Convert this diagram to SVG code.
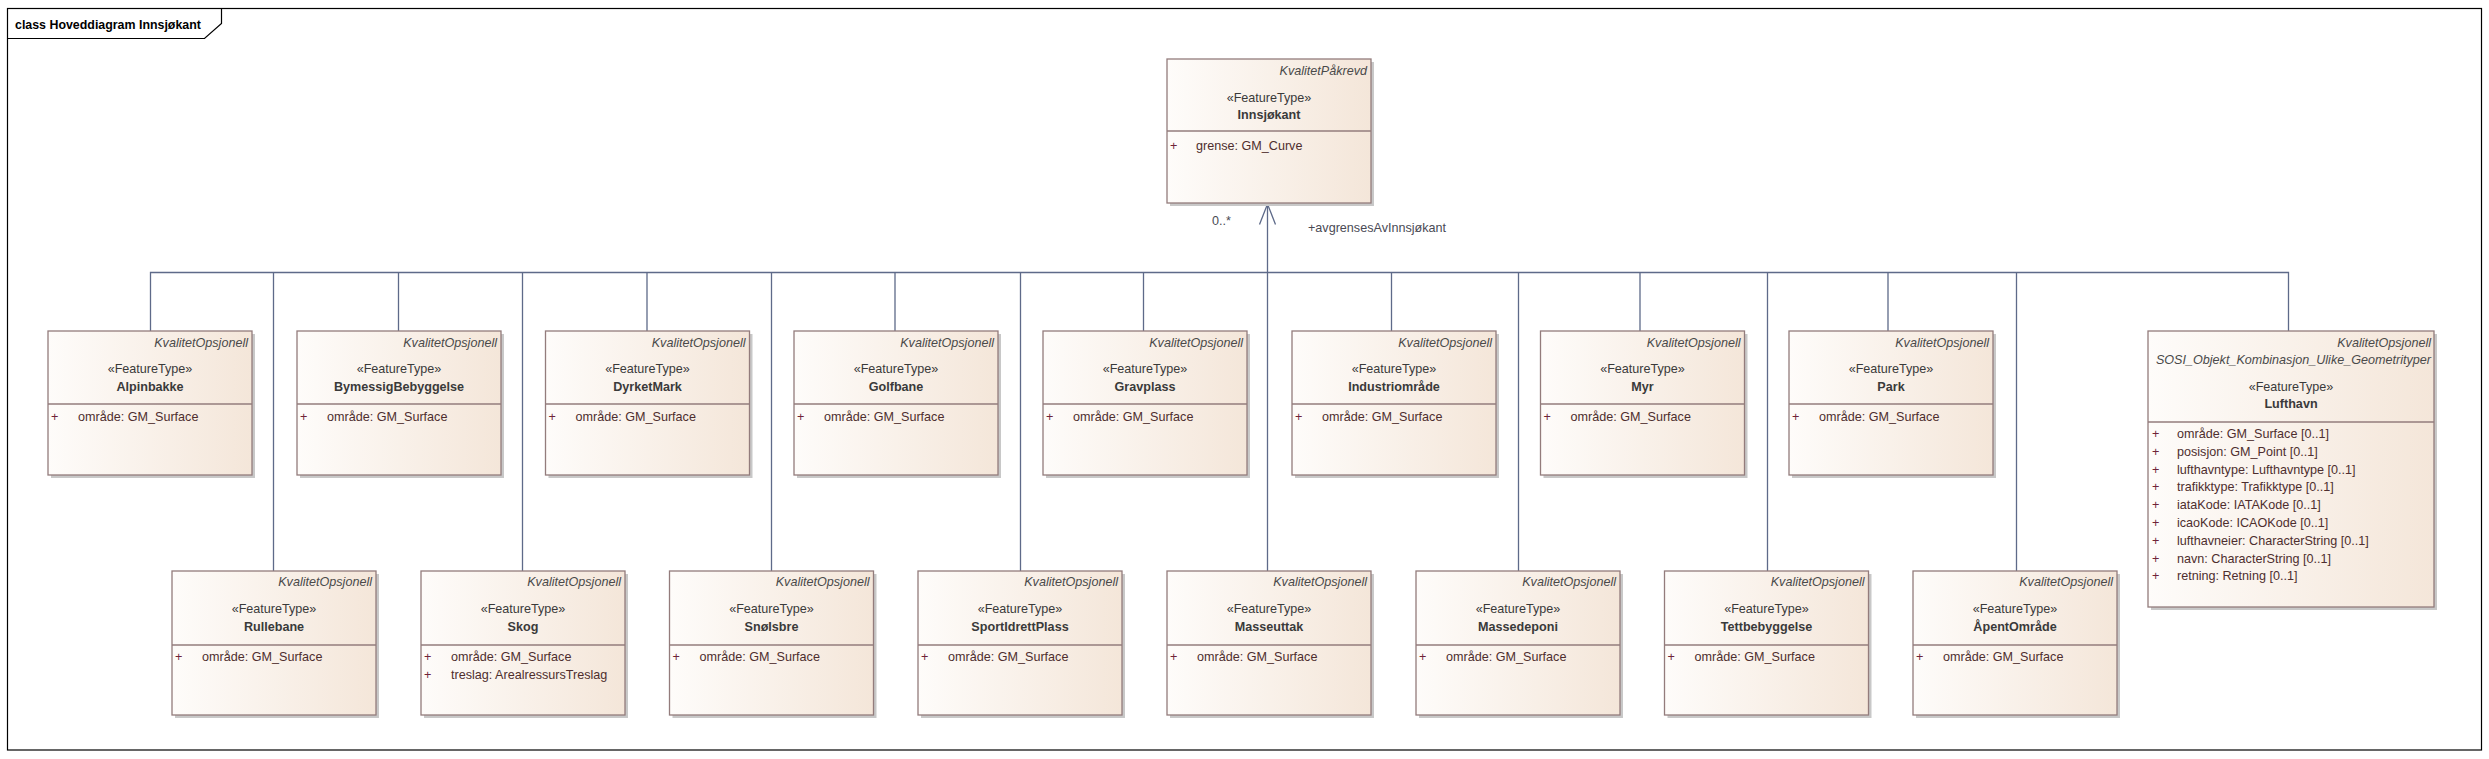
<svg xmlns="http://www.w3.org/2000/svg" width="2489" height="759" viewBox="0 0 2489 759">
<defs>
<linearGradient id="fill" x1="0" y1="0" x2="1" y2="0">
<stop offset="0" stop-color="#FEFCFA"/>
<stop offset="1" stop-color="#F4E6D9"/>
</linearGradient>
</defs>
<style>
text{font-family:"Liberation Sans",Arial,sans-serif;font-size:12.6px;fill:#3A3A3A}
.shadow{fill:#C8C8C8}
.box{fill:url(#fill);stroke:#937C7C;stroke-width:1.3}
.div{stroke:#937C7C;stroke-width:1.3}
.tag{font-style:italic;fill:#4A4A4A;text-anchor:end}
.st{text-anchor:middle}
.nm{text-anchor:middle;font-weight:bold}
.pl{fill:#6E2438}
.at{fill:#4E2E2E}
.conn{stroke:#5E6A89;stroke-width:1.3;fill:none}
.lbl{fill:#4A4A55}
.frame{fill:none;stroke:#000;stroke-width:1.2}
.title{font-weight:bold;font-size:12.4px;fill:#000}
</style>

<g id="frame">
<rect class="frame" x="7.5" y="8.5" width="2474" height="741.5"/>
<path class="frame" d="M7.5,38.5 H204.5 L221.5,23.5 V8.5"/>
<text class="title" x="15" y="28.5">class Hoveddiagram Innsjøkant</text>
</g>

<g id="connectors">
<path class="conn" d="M150.5,331 V272.5 H2288.5 V331"/>
<path class="conn" d="M398.5,272.5 V331 M647,272.5 V331 M895,272.5 V331 M1143.5,272.5 V331 M1391.5,272.5 V331 M1640,272.5 V331 M1888,272.5 V331"/>
<path class="conn" d="M273.5,272.5 V571 M522.5,272.5 V571 M771.5,272.5 V571 M1020.5,272.5 V571 M1518.5,272.5 V571 M1767.5,272.5 V571 M2016.5,272.5 V571"/>
<path class="conn" d="M1267.5,204 V571"/>
<path class="conn" d="M1259.5,224.5 L1267.5,204 L1275.5,224.5"/>
<text class="lbl" x="1212" y="225">0..*</text>
<text class="lbl" x="1308" y="232">+avgrensesAvInnsjøkant</text>
</g>

<g id="Innsjokant">
<rect class="shadow" x="1170" y="62" width="204" height="144"/>
<rect class="box" x="1167" y="59" width="204" height="144"/>
<text class="tag" x="1367" y="75">KvalitetPåkrevd</text>
<text class="st" x="1269" y="102">«FeatureType»</text>
<text class="nm" x="1269" y="119">Innsjøkant</text>
<line class="div" x1="1167" y1="131" x2="1371" y2="131"/>
<text class="pl" x="1170" y="150">+</text>
<text class="at" x="1196" y="150">grense: GM_Curve</text>
</g>

<g id="Alpinbakke">
<rect class="shadow" x="51" y="334" width="204" height="144"/>
<rect class="box" x="48" y="331" width="204" height="144"/>
<text class="tag" x="248" y="347">KvalitetOpsjonell</text>
<text class="st" x="150" y="373">«FeatureType»</text>
<text class="nm" x="150" y="391">Alpinbakke</text>
<line class="div" x1="48" y1="404" x2="252" y2="404"/>
<text class="pl" x="51" y="421">+</text>
<text class="at" x="78" y="421">område: GM_Surface</text>
</g>

<g id="BymessigBebyggelse">
<rect class="shadow" x="300" y="334" width="204" height="144"/>
<rect class="box" x="297" y="331" width="204" height="144"/>
<text class="tag" x="497" y="347">KvalitetOpsjonell</text>
<text class="st" x="399" y="373">«FeatureType»</text>
<text class="nm" x="399" y="391">BymessigBebyggelse</text>
<line class="div" x1="297" y1="404" x2="501" y2="404"/>
<text class="pl" x="300" y="421">+</text>
<text class="at" x="327" y="421">område: GM_Surface</text>
</g>

<g id="DyrketMark">
<rect class="shadow" x="548.5" y="334" width="204" height="144"/>
<rect class="box" x="545.5" y="331" width="204" height="144"/>
<text class="tag" x="745.5" y="347">KvalitetOpsjonell</text>
<text class="st" x="647.5" y="373">«FeatureType»</text>
<text class="nm" x="647.5" y="391">DyrketMark</text>
<line class="div" x1="545.5" y1="404" x2="749.5" y2="404"/>
<text class="pl" x="548.5" y="421">+</text>
<text class="at" x="575.5" y="421">område: GM_Surface</text>
</g>

<g id="Golfbane">
<rect class="shadow" x="797" y="334" width="204" height="144"/>
<rect class="box" x="794" y="331" width="204" height="144"/>
<text class="tag" x="994" y="347">KvalitetOpsjonell</text>
<text class="st" x="896" y="373">«FeatureType»</text>
<text class="nm" x="896" y="391">Golfbane</text>
<line class="div" x1="794" y1="404" x2="998" y2="404"/>
<text class="pl" x="797" y="421">+</text>
<text class="at" x="824" y="421">område: GM_Surface</text>
</g>

<g id="Gravplass">
<rect class="shadow" x="1046" y="334" width="204" height="144"/>
<rect class="box" x="1043" y="331" width="204" height="144"/>
<text class="tag" x="1243" y="347">KvalitetOpsjonell</text>
<text class="st" x="1145" y="373">«FeatureType»</text>
<text class="nm" x="1145" y="391">Gravplass</text>
<line class="div" x1="1043" y1="404" x2="1247" y2="404"/>
<text class="pl" x="1046" y="421">+</text>
<text class="at" x="1073" y="421">område: GM_Surface</text>
</g>

<g id="Industriomrade">
<rect class="shadow" x="1295" y="334" width="204" height="144"/>
<rect class="box" x="1292" y="331" width="204" height="144"/>
<text class="tag" x="1492" y="347">KvalitetOpsjonell</text>
<text class="st" x="1394" y="373">«FeatureType»</text>
<text class="nm" x="1394" y="391">Industriområde</text>
<line class="div" x1="1292" y1="404" x2="1496" y2="404"/>
<text class="pl" x="1295" y="421">+</text>
<text class="at" x="1322" y="421">område: GM_Surface</text>
</g>

<g id="Myr">
<rect class="shadow" x="1543.5" y="334" width="204" height="144"/>
<rect class="box" x="1540.5" y="331" width="204" height="144"/>
<text class="tag" x="1740.5" y="347">KvalitetOpsjonell</text>
<text class="st" x="1642.5" y="373">«FeatureType»</text>
<text class="nm" x="1642.5" y="391">Myr</text>
<line class="div" x1="1540.5" y1="404" x2="1744.5" y2="404"/>
<text class="pl" x="1543.5" y="421">+</text>
<text class="at" x="1570.5" y="421">område: GM_Surface</text>
</g>

<g id="Park">
<rect class="shadow" x="1792" y="334" width="204" height="144"/>
<rect class="box" x="1789" y="331" width="204" height="144"/>
<text class="tag" x="1989" y="347">KvalitetOpsjonell</text>
<text class="st" x="1891" y="373">«FeatureType»</text>
<text class="nm" x="1891" y="391">Park</text>
<line class="div" x1="1789" y1="404" x2="1993" y2="404"/>
<text class="pl" x="1792" y="421">+</text>
<text class="at" x="1819" y="421">område: GM_Surface</text>
</g>

<g id="Lufthavn">
<rect class="shadow" x="2151" y="334" width="286" height="276"/>
<rect class="box" x="2148" y="331" width="286" height="276"/>
<text class="tag" x="2431" y="347">KvalitetOpsjonell</text>
<text class="tag" x="2431" y="364">SOSI_Objekt_Kombinasjon_Ulike_Geometrityper</text>
<text class="st" x="2291" y="391">«FeatureType»</text>
<text class="nm" x="2291" y="408">Lufthavn</text>
<line class="div" x1="2148" y1="422" x2="2434" y2="422"/>
<text class="pl" x="2152" y="438">+</text>
<text class="at" x="2177" y="438">område: GM_Surface [0..1]</text>
<text class="pl" x="2152" y="455.8">+</text>
<text class="at" x="2177" y="455.8">posisjon: GM_Point [0..1]</text>
<text class="pl" x="2152" y="473.6">+</text>
<text class="at" x="2177" y="473.6">lufthavntype: Lufthavntype [0..1]</text>
<text class="pl" x="2152" y="491.4">+</text>
<text class="at" x="2177" y="491.4">trafikktype: Trafikktype [0..1]</text>
<text class="pl" x="2152" y="509.2">+</text>
<text class="at" x="2177" y="509.2">iataKode: IATAKode [0..1]</text>
<text class="pl" x="2152" y="527">+</text>
<text class="at" x="2177" y="527">icaoKode: ICAOKode [0..1]</text>
<text class="pl" x="2152" y="544.8">+</text>
<text class="at" x="2177" y="544.8">lufthavneier: CharacterString [0..1]</text>
<text class="pl" x="2152" y="562.6">+</text>
<text class="at" x="2177" y="562.6">navn: CharacterString [0..1]</text>
<text class="pl" x="2152" y="580.4">+</text>
<text class="at" x="2177" y="580.4">retning: Retning [0..1]</text>
</g>

<g id="Rullebane">
<rect class="shadow" x="175" y="574" width="204" height="144"/>
<rect class="box" x="172" y="571" width="204" height="144"/>
<text class="tag" x="372" y="586">KvalitetOpsjonell</text>
<text class="st" x="274" y="613">«FeatureType»</text>
<text class="nm" x="274" y="631">Rullebane</text>
<line class="div" x1="172" y1="645" x2="376" y2="645"/>
<text class="pl" x="175" y="661">+</text>
<text class="at" x="202" y="661">område: GM_Surface</text>
</g>

<g id="Skog">
<rect class="shadow" x="424" y="574" width="204" height="144"/>
<rect class="box" x="421" y="571" width="204" height="144"/>
<text class="tag" x="621" y="586">KvalitetOpsjonell</text>
<text class="st" x="523" y="613">«FeatureType»</text>
<text class="nm" x="523" y="631">Skog</text>
<line class="div" x1="421" y1="645" x2="625" y2="645"/>
<text class="pl" x="424" y="661">+</text>
<text class="at" x="451" y="661">område: GM_Surface</text>
<text class="pl" x="424" y="679">+</text>
<text class="at" x="451" y="679">treslag: ArealressursTreslag</text>
</g>

<g id="SnoIsbre">
<rect class="shadow" x="672.5" y="574" width="204" height="144"/>
<rect class="box" x="669.5" y="571" width="204" height="144"/>
<text class="tag" x="869.5" y="586">KvalitetOpsjonell</text>
<text class="st" x="771.5" y="613">«FeatureType»</text>
<text class="nm" x="771.5" y="631">SnøIsbre</text>
<line class="div" x1="669.5" y1="645" x2="873.5" y2="645"/>
<text class="pl" x="672.5" y="661">+</text>
<text class="at" x="699.5" y="661">område: GM_Surface</text>
</g>

<g id="SportIdrettPlass">
<rect class="shadow" x="921" y="574" width="204" height="144"/>
<rect class="box" x="918" y="571" width="204" height="144"/>
<text class="tag" x="1118" y="586">KvalitetOpsjonell</text>
<text class="st" x="1020" y="613">«FeatureType»</text>
<text class="nm" x="1020" y="631">SportIdrettPlass</text>
<line class="div" x1="918" y1="645" x2="1122" y2="645"/>
<text class="pl" x="921" y="661">+</text>
<text class="at" x="948" y="661">område: GM_Surface</text>
</g>

<g id="Masseuttak">
<rect class="shadow" x="1170" y="574" width="204" height="144"/>
<rect class="box" x="1167" y="571" width="204" height="144"/>
<text class="tag" x="1367" y="586">KvalitetOpsjonell</text>
<text class="st" x="1269" y="613">«FeatureType»</text>
<text class="nm" x="1269" y="631">Masseuttak</text>
<line class="div" x1="1167" y1="645" x2="1371" y2="645"/>
<text class="pl" x="1170" y="661">+</text>
<text class="at" x="1197" y="661">område: GM_Surface</text>
</g>

<g id="Massedeponi">
<rect class="shadow" x="1419" y="574" width="204" height="144"/>
<rect class="box" x="1416" y="571" width="204" height="144"/>
<text class="tag" x="1616" y="586">KvalitetOpsjonell</text>
<text class="st" x="1518" y="613">«FeatureType»</text>
<text class="nm" x="1518" y="631">Massedeponi</text>
<line class="div" x1="1416" y1="645" x2="1620" y2="645"/>
<text class="pl" x="1419" y="661">+</text>
<text class="at" x="1446" y="661">område: GM_Surface</text>
</g>

<g id="Tettbebyggelse">
<rect class="shadow" x="1667.5" y="574" width="204" height="144"/>
<rect class="box" x="1664.5" y="571" width="204" height="144"/>
<text class="tag" x="1864.5" y="586">KvalitetOpsjonell</text>
<text class="st" x="1766.5" y="613">«FeatureType»</text>
<text class="nm" x="1766.5" y="631">Tettbebyggelse</text>
<line class="div" x1="1664.5" y1="645" x2="1868.5" y2="645"/>
<text class="pl" x="1667.5" y="661">+</text>
<text class="at" x="1694.5" y="661">område: GM_Surface</text>
</g>

<g id="ApentOmrade">
<rect class="shadow" x="1916" y="574" width="204" height="144"/>
<rect class="box" x="1913" y="571" width="204" height="144"/>
<text class="tag" x="2113" y="586">KvalitetOpsjonell</text>
<text class="st" x="2015" y="613">«FeatureType»</text>
<text class="nm" x="2015" y="631">ÅpentOmråde</text>
<line class="div" x1="1913" y1="645" x2="2117" y2="645"/>
<text class="pl" x="1916" y="661">+</text>
<text class="at" x="1943" y="661">område: GM_Surface</text>
</g>
</svg>
